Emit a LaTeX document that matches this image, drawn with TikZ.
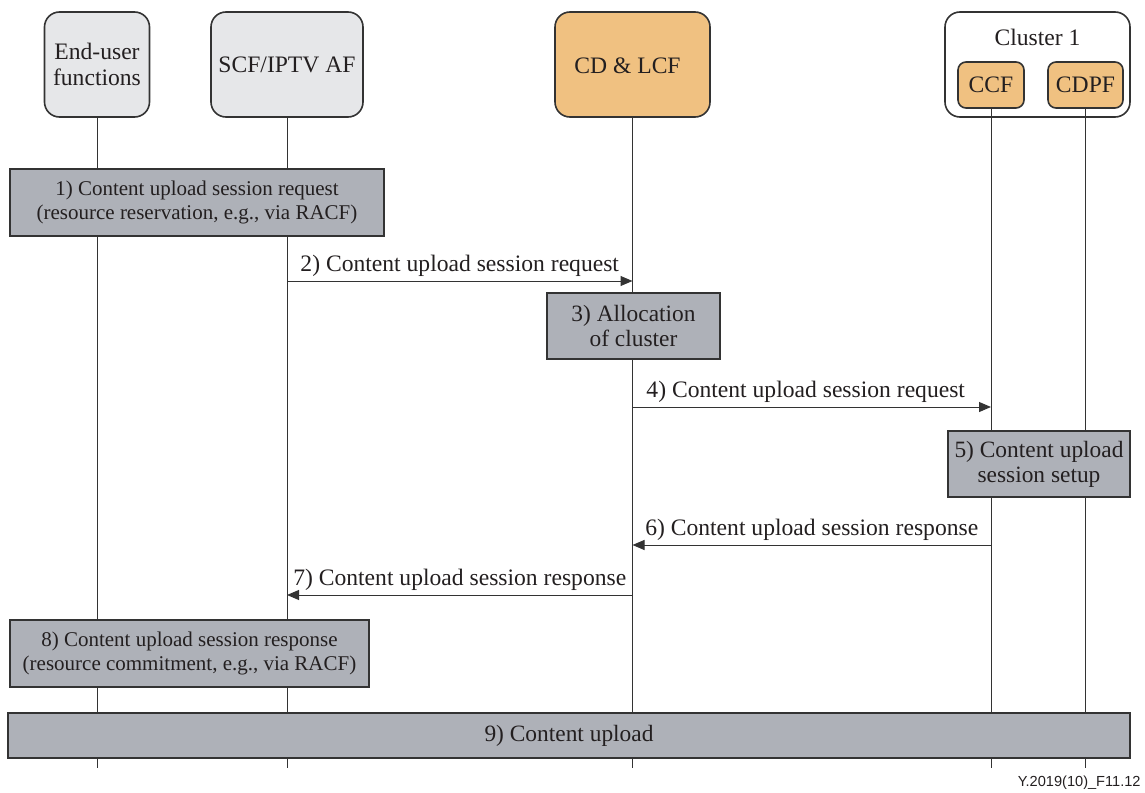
\documentclass[tikz,border=0pt]{standalone}
\usepackage{fontspec}
\setmainfont{Liberation Serif}
\newfontfamily\figsans{Liberation Sans}
\usetikzlibrary{positioning}
\usetikzlibrary{arrows.meta}
\definecolor{usergray}{HTML}{E6E7E9}
\definecolor{fnorange}{HTML}{F0C181}
\definecolor{stepgray}{HTML}{AEB1B8}
\definecolor{linegray}{HTML}{333333}
\definecolor{textgray}{HTML}{231F20}

\begin{document}
\begin{tikzpicture}[x=0.5pt, y=-0.5pt,
headnode/.style={rectangle, rounded corners=7.5pt, draw=linegray, line width=0.8pt, minimum height=52.5pt, align=center, text=textgray, font=\fontsize{11.8}{13}\selectfont},
subnode/.style={rectangle, rounded corners=4pt, draw=linegray, line width=0.8pt, fill=fnorange, minimum height=23pt, inner sep=1pt, text=textgray, font=\fontsize{11.8}{13}\selectfont},
stepnode/.style={rectangle, draw=linegray, line width=0.8pt, fill=stepgray, align=center, text=textgray, font=\fontsize{11.7}{12.5}\selectfont},
smallstep/.style={stepnode, font=\fontsize{10.5}{12}\selectfont},
lifeline/.style={draw=linegray, line width=0.5pt},
msg/.style={lifeline, -{Triangle[length=6pt, width=5pt]}},
msglabel/.style={text=textgray, font=\fontsize{11.8}{13}\selectfont, inner sep=2pt},
]
\useasboundingbox (0,0) rectangle (1145,792);

%Nodes
\node[headnode, fill=usergray, minimum width=52.5pt] (eu) at (97,64.5) {End-user\\functions};
\node[headnode, fill=usergray, minimum width=76pt]   (scf) at (287,64.5) {SCF/IPTV AF};
\node[headnode, fill=fnorange, minimum width=77.5pt] (cd) at (632.5,64.5) {};
\node[text=textgray, font=\fontsize{11.8}{13}\selectfont] (cdtitle) at (627.5,66) {CD \& LCF};
\node[headnode, fill=white, minimum width=92.5pt]    (cl) at (1037.5,64.5) {};
\node[text=textgray, font=\fontsize{11.8}{13}\selectfont] (cltitle) at (1037.5,37) {Cluster 1};
\node[subnode, minimum width=33pt]   (ccf) at (991,85) {CCF};
\node[subnode, minimum width=37.5pt] (cdpf) at (1085.5,85) {CDPF};

\coordinate (bottom) at (0,768);

%Lines
\draw[lifeline] (eu.south)   -- (eu.south |- bottom);
\draw[lifeline] (scf.south)  -- (scf.south |- bottom);
\draw[lifeline] (cd.south)   -- (cd.south |- bottom);
\draw[lifeline] (ccf.south)  -- (ccf.south |- bottom);
\draw[lifeline] (cdpf.south) -- (cdpf.south |- bottom);

%Steps
\node[smallstep, minimum width=187pt, minimum height=33.5pt] (s1) at (197,202.5)
  {1) Content upload session request\\(resource reservation, e.g., via RACF)};
\node[stepnode, minimum width=86.5pt, minimum height=33pt] (s3) at (633.5,326)
  {3) Allocation\\of cluster};
\node[stepnode, minimum width=91pt, minimum height=33pt] (s5) at (1039,464)
  {5) Content upload\\session setup};
\node[smallstep, minimum width=179.5pt, minimum height=33.5pt] (s8) at (189.5,653.5)
  {8) Content upload session response\\(resource commitment, e.g., via RACF)};
\node[stepnode, minimum width=561pt, minimum height=22.5pt] (s9) at (569,735.5)
  {9) Content upload};

%Messages
\coordinate (m2) at (0,281);
\coordinate (m4) at (0,407);
\coordinate (m6) at (0,545);
\coordinate (m7) at (0,595);
\draw[msg] (scf |- m2) -- (cd |- m2) node[msglabel, midway, above] {2) Content upload session request};
\draw[msg] (cd |- m4) -- (ccf |- m4) node[msglabel, midway, above, xshift=-3pt] {4) Content upload session request};
\draw[msg] (ccf |- m6) -- (cd |- m6) node[msglabel, midway, above] {6) Content upload session response};
\draw[msg] (cd |- m7) -- (scf |- m7) node[msglabel, midway, above] {7) Content upload session response};

\node[anchor=east, text=textgray, font=\figsans\fontsize{7.3}{8}\selectfont, inner sep=0pt] (figid) at (1141,783) {Y.2019(10)\_F11.12};
\end{tikzpicture}
\end{document}
